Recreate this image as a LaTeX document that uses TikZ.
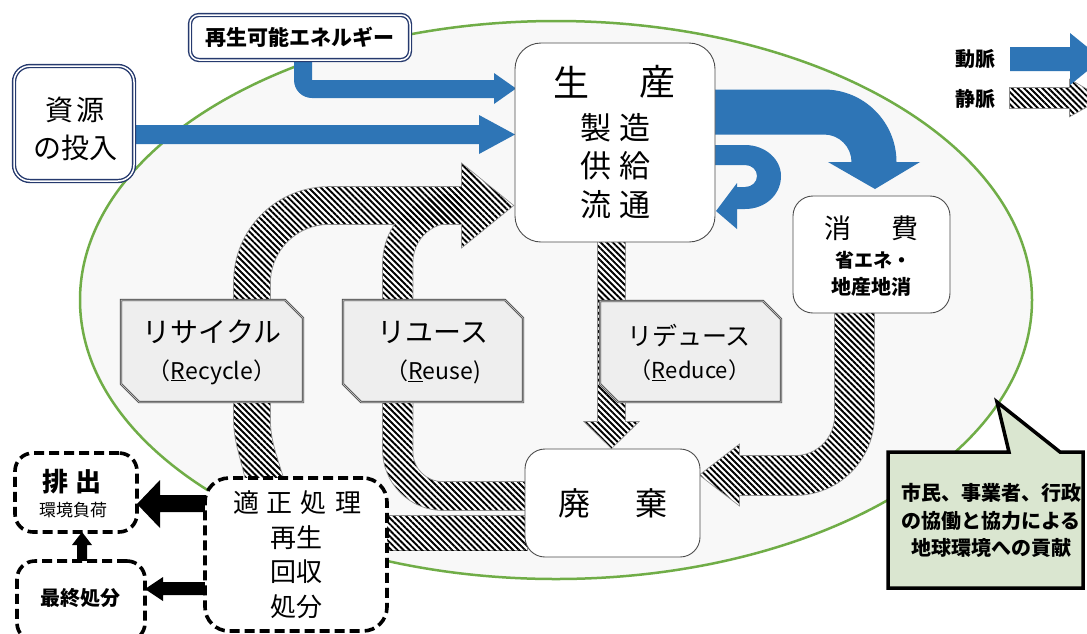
\documentclass[tikz,border=0pt]{standalone}
\usepackage{fontspec}
\setmainfont{Noto Sans CJK JP}
\usetikzlibrary{patterns.meta}
\definecolor{flowblue}{RGB}{46,117,182}
\definecolor{ellgreen}{RGB}{112,173,71}
\definecolor{navyline}{RGB}{38,58,110}
\definecolor{labelgray}{RGB}{238,238,238}
\definecolor{bubblegreen}{RGB}{218,230,208}
\definecolor{ellfill}{RGB}{248,248,248}
\newcommand{\fsz}[1]{\fontsize{#1}{#1}\selectfont}
\tikzset{
  txt/.style={inner sep=0pt, align=center},
  whitebox/.style={draw=black!70, line width=0.9pt, fill=white, inner sep=0pt},
  dashbox/.style={draw=black, line width=3.6pt, dash pattern=on 10pt off 5pt, fill=white, rounded corners=18pt, inner sep=0pt},
  navybox/.style={draw=navyline, line width=1.4pt, double=white, double distance=1.5pt, fill=white, inner sep=0pt},
  snipbox/.style={draw=black!75, line width=0.7pt, double=gray!55, double distance=1pt, fill=labelgray},
  bluearrow/.style={fill=flowblue},
  blackarrow/.style={fill=black},
  hatchedge/.style={draw=black!45, line width=1.6pt},
  hatchwhite/.style={fill=white},
  hatchfill/.style={pattern={Lines[angle=-45,distance=4.3pt,line width=1.9pt]}, pattern color=black},
}
\def\recyclepath{(247,484) .. controls (240,455) and (234,440) .. (234,420) -- (234,282) .. controls (234,229.5) and (276.5,187) .. (329,187) -- (462,187) -- (462,164) -- (513,205.5) -- (462,247) -- (462,224) -- (329,224) .. controls (296.4,224) and (270,250.4) .. (270,283) -- (270,420) .. controls (270,440) and (276,455) .. (285,484) -- cycle}
\def\reusepath{(527,510) -- (443,510) .. controls (409.9,510) and (383,483.1) .. (383,450) -- (383,263.5) .. controls (383,225.1) and (414.1,194) .. (452.5,194) -- (462,194) -- (462,222.5) -- (452.5,222.5) .. controls (430.1,222.5) and (412.5,240.1) .. (412.5,262.5) -- (412.5,452) .. controls (412.5,468.6) and (425.9,482) .. (442.5,482) -- (527,482) -- cycle}
\def\lowbandpath{(385,516) rectangle (527,550)}
\def\reducepath{(598,238) -- (625,238) -- (625,422) -- (638,422) -- (611.5,448) -- (585,422) -- (598,422) -- cycle}
\def\consumepath{(835,310) -- (835,416) .. controls (835,438.1) and (817.1,456) .. (795,456) -- (739,456) -- (739,445) -- (700,475) -- (739,505) -- (739,495) -- (795,495) .. controls (838.6,495) and (874,459.6) .. (874,416) -- (874,310) -- cycle}
\def\legendhatch{(1010,88) -- (1070,88) -- (1070,80) -- (1102,98) -- (1070,116) -- (1070,108) -- (1010,108) -- cycle}
\begin{document}
\begin{tikzpicture}[x=1pt,y=-1pt]
\useasboundingbox (0,0) rectangle (1087,633);
\fill[white] (0,0) rectangle (1087,633);

% big ellipse
\draw[ellgreen, line width=2.5pt, fill=ellfill] (556,300) ellipse [x radius=476, y radius=279];

% hatched (venous) flows
\path[hatchedge] \recyclepath;
\path[hatchedge] \reusepath;
\path[hatchedge] \lowbandpath;
\path[hatchedge] \reducepath;
\path[hatchedge] \consumepath;
\path[hatchedge] \legendhatch;
\path[hatchwhite] \recyclepath;
\path[hatchwhite] \reusepath;
\path[hatchwhite] \lowbandpath;
\path[hatchwhite] \reducepath;
\path[hatchwhite] \consumepath;
\path[hatchwhite] \legendhatch;
\path[hatchfill] \recyclepath;
\path[hatchfill] \reusepath;
\path[hatchfill] \lowbandpath;
\path[hatchfill] \reducepath;
\path[hatchfill] \consumepath;
\path[hatchfill] \legendhatch;

% blue (arterial) flows
\path[bluearrow] (130,125) -- (479,125) -- (479,115) -- (515,134.5) -- (479,154) -- (479,144) -- (130,144) -- cycle;
\path[bluearrow] (294,55) -- (294,80) .. controls (294,90) and (302,98) .. (312,98) -- (494,98) -- (494,104) -- (516,88.5) -- (494,73) -- (494,80) -- (312,80) -- (312,55) -- cycle;
\path[bluearrow] (712,89.5) -- (824,89.5) .. controls (864,89.5) and (896.5,122) .. (896.5,162) -- (920,162) -- (875,189) -- (828,162) -- (851.5,162) .. controls (851.5,146.8) and (839.2,134.5) .. (824,134.5) -- (712,134.5) -- cycle;
\path[bluearrow] (712,145) -- (745,145) .. controls (765,145) and (781,159) .. (781,176) .. controls (781,195) and (765,209) .. (745,209) -- (737,209) -- (737,229) -- (716,211) -- (737,183) -- (737,187) -- (745,187) .. controls (752,187) and (757,182) .. (757,176) .. controls (757,170) and (752,165) .. (745,165) -- (712,165) -- cycle;
\path[bluearrow] (1010,47) -- (1070,47) -- (1070,33) -- (1102,59) -- (1070,85) -- (1070,71) -- (1010,71) -- cycle;

% black flows
\path[blackarrow] (207,495) -- (160,495) -- (160,480) -- (137,504) -- (160,528) -- (160,512) -- (207,512) -- cycle;
\path[blackarrow] (207,582) -- (163,582) -- (163,577) -- (145,589) -- (163,601) -- (163,595) -- (207,595) -- cycle;
\path[blackarrow] (77,561) -- (77,545) -- (72,545) -- (82,532) -- (92,545) -- (87,545) -- (87,561) -- cycle;

% boxes
\node[navybox, rounded corners=16pt, minimum width=120pt, minimum height=115pt] (shigen) at (74,123.5) {};
\node[navybox, rounded corners=9pt, minimum width=220pt, minimum height=45pt] (saisei) at (300,37.5) {};
\node[whitebox, rounded corners=26pt, minimum width=200pt, minimum height=199pt] (seisan) at (615,142.5) {};
\node[whitebox, rounded corners=20pt, minimum width=157pt, minimum height=117pt] (shohi) at (871.5,254.5) {};
\node[whitebox, rounded corners=20pt, minimum width=175pt, minimum height=108pt] (haiki) at (612.5,503) {};
\node[dashbox, rounded corners=24pt, minimum width=182pt, minimum height=153pt] (tekisei) at (296,554.5) {};
\node[dashbox, minimum width=122pt, minimum height=79pt] (haishutsu) at (76,492.5) {};
\node[dashbox, minimum width=128pt, minimum height=80pt] (saishu) at (81,601) {};

% snip labels
\path[snipbox] (121,300) -- (285,300) -- (303,318) -- (303,402) -- (139,402) -- (121,384) -- cycle;
\path[snipbox] (343,300) -- (505,300) -- (523,318) -- (523,402) -- (361,402) -- (343,384) -- cycle;
\path[snipbox] (600,301) -- (763,301) -- (781,319) -- (781,402) -- (618,402) -- (600,384) -- cycle;

% speech bubble
\path[draw=black, line width=3.5pt, fill=bubblegreen, line join=miter] (888,452) -- (1009,452) -- (997,402) -- (1060,452) -- (1083,452) -- (1083,588) -- (888,588) -- cycle;

% texts
\node[txt, font=\fsz{21}\bfseries] (t1) at (300,37) {再生可能エネルギー};
\node[txt, font=\fsz{28}] (t2) at (75,110) {資\hspace{4pt}源};
\node[txt, font=\fsz{28}] (t3) at (75,148) {の投入};
\node[txt, font=\fsz{36}] (t4) at (571,82) {生};
\node[txt, font=\fsz{36}] (t5) at (657,82) {産};
\node[txt, font=\fsz{31}] (t6) at (615,128) {製\hspace{8pt}造};
\node[txt, font=\fsz{31}] (t7) at (615,166) {供\hspace{8pt}給};
\node[txt, font=\fsz{31}] (t8) at (615,205) {流\hspace{8pt}通};
\node[txt, font=\fsz{27}] (t9) at (838,228) {消};
\node[txt, font=\fsz{27}] (t10) at (905,228) {費};
\node[txt, font=\fsz{19}\bfseries] (t11) at (873,260) {省エネ・};
\node[txt, font=\fsz{20}\bfseries] (t12) at (871,287) {地産地消};
\node[txt, font=\fsz{32}] (t13) at (574,503) {廃};
\node[txt, font=\fsz{32}] (t14) at (651,503) {棄};
\node[txt, font=\fsz{26}] (t15) at (297,503) {適\hspace{8pt}正\hspace{8pt}処\hspace{8pt}理};
\node[txt, font=\fsz{26}] (t16) at (296,538) {再生};
\node[txt, font=\fsz{26}] (t17) at (296,572) {回収};
\node[txt, font=\fsz{26}] (t18) at (296,607) {処分};
\node[txt, font=\fsz{26}\bfseries] (t19) at (72,482) {排\hspace{8pt}出};
\node[txt, font=\fsz{17}] (t20) at (73,510) {環境負荷};
\node[txt, font=\fsz{20}\bfseries] (t21) at (80,598) {最終処分};
\node[txt, font=\fsz{28}] (t22) at (212,332) {リサイクル};
\node[txt, font=\fsz{23}] (t23) at (212,372) {（\underline{R}ecycle）};
\node[txt, font=\fsz{28}] (t24) at (433,332) {リユース};
\node[txt, font=\fsz{23}] (t25) at (433,372) {（\underline{R}euse)};
\node[txt, font=\fsz{25}] (t26) at (689,336) {リデュース};
\node[txt, font=\fsz{22}] (t27) at (690,370) {（\underline{R}educe）};
\node[txt, font=\fsz{20}\bfseries] (t28) at (991,493) {市民、事業者、行政};
\node[txt, font=\fsz{20}\bfseries] (t29) at (991,521) {の協働と協力による};
\node[txt, font=\fsz{20}\bfseries] (t30) at (991,548) {地球環境への貢献};
\node[txt, font=\fsz{20}\bfseries] (t31) at (975,59) {動脈};
\node[txt, font=\fsz{20}\bfseries] (t32) at (975,99) {静脈};
\end{tikzpicture}
\end{document}
